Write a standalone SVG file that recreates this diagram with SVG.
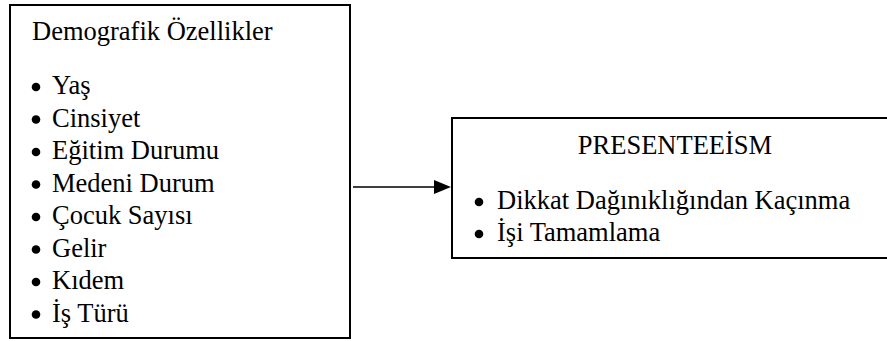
<svg xmlns="http://www.w3.org/2000/svg" width="887" height="341" viewBox="0 0 887 341">
<style>
.box{fill:#fff;stroke:#000;stroke-width:2}
.t{font-family:"Liberation Serif","Times New Roman",serif;font-size:26.5px;fill:#000}
.dot{fill:#000}
</style>
<rect width="887" height="341" fill="#fff"/>
<g id="demografik">
<rect class="box" x="10" y="5" width="340" height="333"/>
<text class="t" x="32" y="40">Demografik Özellikler</text>
<circle class="dot" cx="36" cy="87" r="4.3"/><text class="t" x="52" y="94">Yaş</text>
<circle class="dot" cx="36" cy="119.5" r="4.3"/><text class="t" x="52" y="126.5">Cinsiyet</text>
<circle class="dot" cx="36" cy="152" r="4.3"/><text class="t" x="52" y="159">Eğitim Durumu</text>
<circle class="dot" cx="36" cy="184.5" r="4.3"/><text class="t" x="52" y="191.5">Medeni Durum</text>
<circle class="dot" cx="36" cy="217" r="4.3"/><text class="t" x="52" y="224">Çocuk Sayısı</text>
<circle class="dot" cx="36" cy="249.5" r="4.3"/><text class="t" x="52" y="256.5">Gelir</text>
<circle class="dot" cx="36" cy="282" r="4.3"/><text class="t" x="52" y="289">Kıdem</text>
<circle class="dot" cx="36" cy="314.5" r="4.3"/><text class="t" x="52" y="321.5">İş Türü</text>
</g>
<g id="presenteeism">
<rect class="box" x="452" y="118" width="450" height="140"/>
<text class="t" x="675" y="154" text-anchor="middle">PRESENTEEİSM</text>
<circle class="dot" cx="479" cy="202" r="4.3"/><text class="t" x="497" y="209">Dikkat Dağınıklığından Kaçınma</text>
<circle class="dot" cx="479" cy="234" r="4.3"/><text class="t" x="497" y="241">İşi Tamamlama</text>
</g>
<g id="connectors">
<line x1="353" y1="187" x2="436" y2="187" stroke="#000" stroke-width="1.6"/>
<polygon points="434,180 451,187 434,194" fill="#000"/>
</g>
</svg>
